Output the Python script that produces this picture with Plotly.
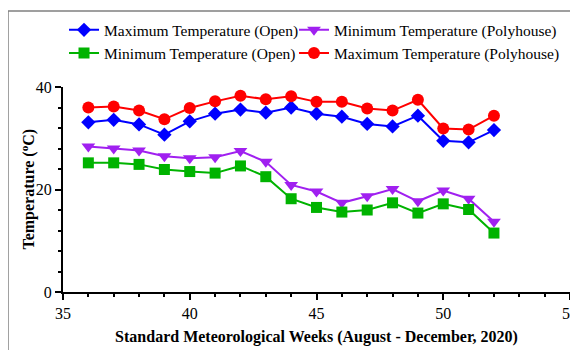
import plotly.graph_objects as go

weeks = list(range(36, 53))
max_open = [33.1, 33.6, 32.7, 30.7, 33.3, 34.8, 35.6, 35.0, 36.0, 34.8, 34.2, 32.8, 32.3, 34.4, 29.5, 29.2, 31.6]
min_poly = [28.4, 28.0, 27.6, 26.5, 26.1, 26.3, 27.5, 25.4, 20.9, 19.6, 17.4, 18.7, 20.1, 17.7, 19.8, 18.2, 13.7]
min_open = [25.2, 25.2, 24.9, 23.9, 23.5, 23.2, 24.6, 22.5, 18.2, 16.5, 15.6, 16.0, 17.4, 15.4, 17.2, 16.1, 11.5]
max_poly = [36.0, 36.2, 35.4, 33.7, 35.9, 37.2, 38.3, 37.6, 38.2, 37.1, 37.1, 35.8, 35.4, 37.5, 31.9, 31.7, 34.4]

names = ["Maximum Temperature (Open)", "Minimum Temperature (Polyhouse)",
         "Minimum Temperature (Open)", "Maximum Temperature (Polyhouse)"]
series = [max_open, min_poly, min_open, max_poly]
colors = ["#0000FF", "#A020F0", "#00B300", "#FF0000"]
symbols = ["diamond", "triangle-down", "square", "circle"]
sizes = [11, 12, 11, 12]
legend_ids = ["legend", "legend2", "legend", "legend2"]

FONT = "Liberation Serif"

fig = go.Figure()
for n, s, c, sym, sz, lg in zip(names, series, colors, symbols, sizes, legend_ids):
    fig.add_trace(go.Scatter(
        x=weeks, y=s, name=n, mode="lines+markers",
        line=dict(color=c, width=2),
        marker=dict(color=c, symbol=sym, size=sz, line=dict(width=0)),
        legend=lg,
    ))

leg_common = dict(
    orientation="v", yanchor="top", xanchor="left",
    font=dict(family=FONT, size=15.5, color="black"),
    bgcolor="rgba(0,0,0,0)", borderwidth=0, tracegroupgap=0,
)

fig.update_layout(
    width=570, height=342,
    margin=dict(l=55, r=8, t=79, b=58, autoexpand=False),
    paper_bgcolor="white", plot_bgcolor="white",
    font=dict(family=FONT, size=16, color="black"),
    legend=dict(x=0.002, y=1.36, **leg_common),
    legend2=dict(x=0.4556, y=1.36, **leg_common),
    shapes=[dict(type="rect", xref="paper", yref="paper",
                 x0=-0.1085, x1=1.2, y0=-0.6, y1=1.3707,
                 line=dict(color="#808080", width=1.5), layer="below")],
    annotations=[dict(text="<b>Temperature (<sup>o</sup>C)</b>", xref="paper", yref="paper",
                      x=-0.069, y=0.5, xanchor="center", yanchor="middle",
                      textangle=-90, showarrow=False,
                      font=dict(family=FONT, size=16, color="black"))],
)

fig.update_xaxes(
    range=[35, 55], tickmode="array", tickvals=[35, 40, 45, 50, 55],
    showgrid=False, zeroline=False, automargin=False, ticklabeloverflow="allow",
    showline=True, linecolor="black", linewidth=2,
    ticks="outside", ticklen=6, tickwidth=2, tickcolor="black",
    minor=dict(dtick=1, ticks="outside", ticklen=3, tickwidth=2, tickcolor="black", showgrid=False),
    tickfont=dict(family=FONT, size=16),
    title=dict(text="<b>Standard Meteorological Weeks (August - December, 2020)</b>",
               font=dict(family=FONT, size=16), standoff=10),
)
fig.update_yaxes(
    range=[0, 40], tickmode="array", tickvals=[0, 20, 40],
    showgrid=False, zeroline=False, automargin=False, ticklabeloverflow="allow",
    showline=True, linecolor="black", linewidth=2,
    ticks="outside", ticklen=6, tickwidth=2, tickcolor="black",
    minor=dict(dtick=4, ticks="outside", ticklen=3, tickwidth=2, tickcolor="black", showgrid=False),
    tickfont=dict(family=FONT, size=16),
)

fig.write_html("out.html")
